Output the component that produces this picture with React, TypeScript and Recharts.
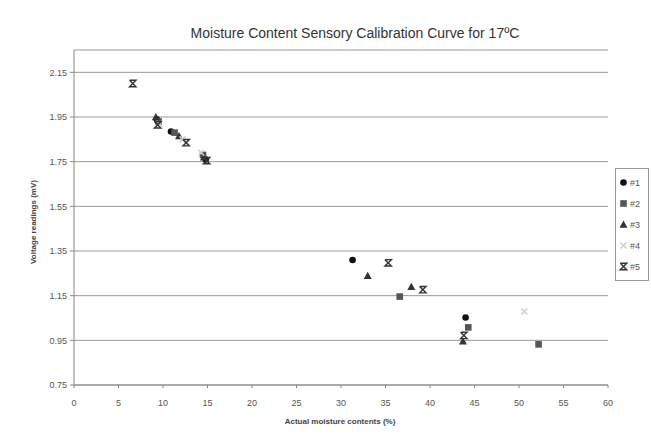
import React from 'react';
import {
  ScatterChart,
  Scatter,
  XAxis,
  YAxis,
  CartesianGrid,
} from 'recharts';

// readings per probe: [moisture %, voltage]
const S1 = [
  { x: 9.3, y: 1.94 },
  { x: 10.9, y: 1.885 },
  { x: 14.8, y: 1.76 },
  { x: 31.3, y: 1.31 },
  { x: 44.0, y: 1.052 },
];
const S2 = [
  { x: 9.5, y: 1.93 },
  { x: 11.3, y: 1.88 },
  { x: 14.5, y: 1.78 },
  { x: 36.6, y: 1.146 },
  { x: 44.3, y: 1.008 },
  { x: 52.2, y: 0.932 },
];
const S3 = [
  { x: 9.2, y: 1.95 },
  { x: 11.8, y: 1.865 },
  { x: 14.6, y: 1.77 },
  { x: 33.0, y: 1.239 },
  { x: 37.9, y: 1.19 },
  { x: 43.7, y: 0.946 },
];
const S4 = [
  { x: 9.6, y: 1.92 },
  { x: 12.2, y: 1.85 },
  { x: 14.3, y: 1.79 },
  { x: 50.6, y: 1.079 },
];
const S5 = [
  { x: 6.6, y: 2.1 },
  { x: 9.4, y: 1.915 },
  { x: 12.6, y: 1.835 },
  { x: 14.9, y: 1.755 },
  { x: 35.3, y: 1.297 },
  { x: 39.2, y: 1.177 },
  { x: 43.8, y: 0.972 },
];

const X_TICKS = [0, 5, 10, 15, 20, 25, 30, 35, 40, 45, 50, 55, 60];
const Y_TICKS = [0.75, 0.95, 1.15, 1.35, 1.55, 1.75, 1.95, 2.15];
const NAMES = ['#1', '#2', '#3', '#4', '#5'];

const FONT = '"Liberation Sans", Arial, sans-serif';

// marker drawing
function marker(i: number, cx: number, cy: number) {
  switch (i) {
    case 0:
      return <circle cx={cx} cy={cy} r={3.3} fill="#111" />;
    case 1:
      return <rect x={cx - 3.3} y={cy - 3.3} width={6.6} height={6.6} fill="#555" />;
    case 2:
      return (
        <polygon
          points={`${cx},${cy - 4} ${cx + 4},${cy + 3.2} ${cx - 4},${cy + 3.2}`}
          fill="#333"
        />
      );
    case 3:
      return (
        <path
          d={`M${cx - 3},${cy - 3}L${cx + 3},${cy + 3}M${cx + 3},${cy - 3}L${cx - 3},${cy + 3}`}
          stroke="#d0d0d0"
          strokeWidth={1.6}
        />
      );
    default:
      return (
        <path
          d={`M${cx - 3.2},${cy - 3.2}H${cx + 3.2}L${cx - 3.2},${cy + 3.2}H${cx + 3.2}L${cx - 3.2},${cy - 3.2}`}
          stroke="#333"
          strokeWidth={1.4}
          fill="none"
        />
      );
  }
}

const shapeFor = (i: number) => (p: any) => marker(i, p.cx, p.cy);

function LegendBox() {
  return (
    <div
      style={{
        position: 'absolute',
        left: 615,
        top: 168,
        width: 26,
        border: '1px solid #999',
        padding: '3px 3px',
        fontSize: 9,
        color: '#555',
        background: '#fff',
      }}
    >
      {NAMES.map((n, i) => (
        <div key={n} style={{ display: 'flex', alignItems: 'center', height: 21 }}>
          <svg width={9} height={9} style={{ marginRight: 2 }}>
            {marker(i, 4.5, 4.5)}
          </svg>
          <span>{n}</span>
        </div>
      ))}
    </div>
  );
}

export default function App() {
  return (
    <div
      style={{
        position: 'absolute',
        left: 0,
        top: 0,
        width: 651,
        height: 436,
        background: '#fff',
        fontFamily: FONT,
      }}
    >
      <ScatterChart
        width={651}
        height={436}
        margin={{ top: 50, right: 43, bottom: 21, left: 34 }}
        style={{ position: 'absolute', left: 0, top: 0 }}
      >
        <CartesianGrid vertical={false} stroke="#999" strokeWidth={1} />
        <XAxis
          type="number"
          dataKey="x"
          domain={[0, 60]}
          ticks={X_TICKS}
          interval={0}
          height={30}
          stroke="#888"
          tickSize={3}
          tickMargin={12}
          tick={{ fontSize: 9, fill: '#555', fontFamily: FONT }}
        />
        <YAxis
          type="number"
          dataKey="y"
          domain={[0.75, 2.25]}
          ticks={Y_TICKS}
          interval={0}
          width={40}
          stroke="#888"
          tickSize={4}
          tickMargin={3}
          tickFormatter={(v: number) => v.toFixed(2)}
          tick={{ fontSize: 9, fill: '#555', fontFamily: FONT }}
        />
        {[S1, S2, S3, S4, S5].map((d, i) => (
          <Scatter
            key={NAMES[i]}
            name={NAMES[i]}
            data={d}
            shape={shapeFor(i)}
            isAnimationActive={false}
          />
        ))}
      </ScatterChart>
      <div
        style={{
          position: 'absolute',
          top: 25,
          left: 160,
          width: 390,
          textAlign: 'center',
          fontSize: 14,
          color: '#333',
        }}
      >
        Moisture Content Sensory Calibration Curve for 17ºC
      </div>
      <div
        style={{
          position: 'absolute',
          left: 33,
          top: 222,
          transform: 'translate(-50%, -50%) rotate(-90deg)',
          whiteSpace: 'nowrap',
          fontSize: 8,
          fontWeight: 'bold',
          color: '#444',
        }}
      >
        Voltage readings (mV)
      </div>
      <div
        style={{
          position: 'absolute',
          left: 190,
          top: 417,
          width: 300,
          textAlign: 'center',
          fontSize: 8,
          fontWeight: 'bold',
          color: '#444',
        }}
      >
        Actual moisture contents (%)
      </div>
      <LegendBox />
    </div>
  );
}
